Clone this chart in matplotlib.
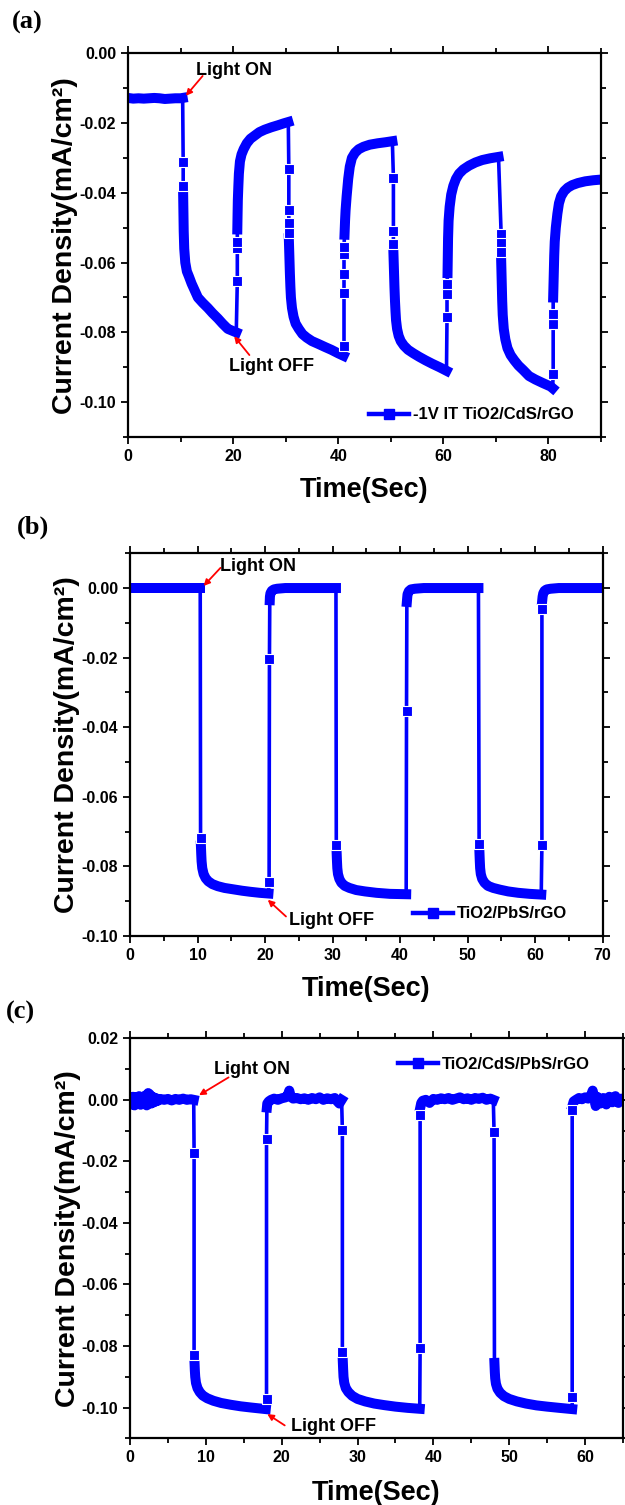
"""Transient photocurrent response of three TiO2 based photoelectrodes."""
import matplotlib
matplotlib.use("Agg")
from matplotlib import pyplot as plt
from matplotlib.lines import Line2D
from matplotlib.ticker import MultipleLocator

plt.rcParams['font.family'] = ['Liberation Sans', 'DejaVu Sans']
plt.rcParams['font.weight'] = 'bold'

BLUE = '#0000ff'

# ---------------- (a) -1V IT TiO2/CdS/rGO ----------------
# smooth (densely sampled) parts of the trace
a_band_time = [
    [0, 1, 2, 3, 4, 5, 6, 7, 8, 9, 10, 10.4],
    [10.5, 10.55, 10.6, 10.7, 10.9, 11.2, 11.6, 12.1, 12.7, 13.3, 14.2, 15.2, 16.1, 17.1, 18.0, 19.0, 19.8, 20.6],
    [20.8, 20.85, 20.9, 21.0, 21.1, 21.3, 21.6, 22.0, 22.6, 23.3, 24.1, 25.0, 26.0, 27.3, 28.6, 29.6, 30.5],
    [30.6, 30.7, 30.8, 30.9, 31.0, 31.2, 31.5, 31.9, 32.5, 33.2, 34.0, 35.0, 36.2, 37.5, 38.7, 40.0, 41.0],
    [41.2, 41.3, 41.4, 41.6, 41.9, 42.2, 42.6, 43.2, 43.9, 44.8, 46.0, 47.5, 49.0, 50.3],
    [50.5, 50.6, 50.7, 50.8, 50.9, 51.0, 51.2, 51.5, 51.9, 52.5, 53.3, 54.3, 55.4, 56.6, 57.9, 59.3, 60.6],
    [60.8, 60.85, 60.9, 61.0, 61.2, 61.5, 61.9, 62.4, 63.0, 63.8, 64.9, 66.1, 67.4, 68.9, 70.5],
    [71.0, 71.1, 71.2, 71.3, 71.5, 71.8, 72.2, 72.8, 73.5, 74.3, 75.2, 76.3, 77.5, 78.9, 80.4, 80.8],
    [80.9, 81.0, 81.1, 81.2, 81.4, 81.7, 82.0, 82.4, 83.0, 83.7, 84.5, 85.6, 87.0, 88.5, 90.0],
]
a_band_current = [
    [-0.0128, -0.0130, -0.0129, -0.0130, -0.0129, -0.0128, -0.0129, -0.0131, -0.0130, -0.0129, -0.0129, -0.0128],
    [-0.041, -0.046, -0.051, -0.056, -0.060, -0.0625, -0.064, -0.066, -0.068, -0.070, -0.0715, -0.073, -0.0745,
     -0.076, -0.0775, -0.079, -0.0795, -0.0800],
    [-0.0505, -0.046, -0.042, -0.038, -0.0345, -0.031, -0.0290, -0.0275, -0.0258, -0.0245, -0.0236, -0.0226,
     -0.0219, -0.0212, -0.0206, -0.0201, -0.0197],
    [-0.053, -0.058, -0.063, -0.067, -0.070, -0.073, -0.0755, -0.0775, -0.079, -0.0805, -0.0815, -0.0825,
     -0.0833, -0.0842, -0.0850, -0.0860, -0.0867],
    [-0.052, -0.048, -0.045, -0.041, -0.036, -0.0325, -0.0300, -0.0285, -0.0275, -0.0268, -0.0262, -0.0258,
     -0.0255, -0.0252],
    [-0.057, -0.062, -0.067, -0.071, -0.074, -0.0765, -0.079, -0.081, -0.0825, -0.0838, -0.0850, -0.0860,
     -0.0870, -0.0880, -0.0890, -0.0900, -0.0910],
    [-0.063, -0.058, -0.053, -0.048, -0.044, -0.0405, -0.038, -0.036, -0.0345, -0.0333, -0.0322, -0.0313,
     -0.0306, -0.0301, -0.0297],
    [-0.059, -0.065, -0.071, -0.075, -0.079, -0.082, -0.0845, -0.0865, -0.088, -0.0895, -0.0908, -0.0925,
     -0.0935, -0.0945, -0.0955, -0.0960],
    [-0.070, -0.064, -0.058, -0.054, -0.050, -0.046, -0.043, -0.041, -0.0395, -0.0385, -0.0378, -0.0372,
     -0.0367, -0.0364, -0.0362],
]
# sparse points while the light is switched
a_step_time = [[10.5, 10.5], [20.8, 20.8, 20.8], [30.6, 30.6, 30.6, 30.6], [41.1, 41.1, 41.1, 41.1, 41.1],
               [50.5, 50.5, 50.5], [60.7, 60.7, 60.7], [71.0, 71.0, 71.0], [80.9, 80.9, 80.9]]
a_step_current = [[-0.0313, -0.0381], [-0.0652, -0.0557, -0.0540], [-0.0333, -0.0448, -0.0486, -0.0514],
                  [-0.0838, -0.0686, -0.0633, -0.0576, -0.0555], [-0.0357, -0.0510, -0.0548],
                  [-0.0757, -0.0690, -0.0660], [-0.0519, -0.0543, -0.0571], [-0.0919, -0.0776, -0.0748]]

# ---------------- (b) TiO2/PbS/rGO ----------------
b_band_time = [
    [0, 2, 4, 6, 8, 10, 10.4],
    [10.5, 10.55, 10.6, 10.7, 10.9, 11.2, 11.6, 12.2, 13.0, 14.0, 15.3, 16.6, 17.8, 19.2, 20.5],
    [20.7, 20.72, 20.8, 21.0, 21.3, 21.8, 23.0, 25.0, 27.0, 29.0, 30.5],
    [30.6, 30.65, 30.7, 30.8, 31.0, 31.3, 31.8, 32.5, 33.5, 34.8, 36.5, 38.5, 40.9],
    [41.0, 41.05, 41.1, 41.3, 41.6, 42.2, 43.5, 46, 49, 51.6],
    [51.75, 51.8, 51.85, 51.95, 52.15, 52.5, 53.0, 53.8, 54.8, 56.0, 57.5, 59.2, 60.9],
    [61.05, 61.1, 61.2, 61.4, 61.7, 62.3, 63.5, 66, 68, 70],
]
b_band_current = [
    [0.0, 0.0, 0.0, 0.0, 0.0, 0.0, 0.0],
    [-0.0740, -0.0765, -0.0785, -0.0805, -0.0822, -0.0834, -0.0843, -0.0851, -0.0857, -0.0862, -0.0866,
     -0.0870, -0.0873, -0.0876, -0.0878],
    [-0.0035, -0.0025, -0.0015, -0.0008, -0.0004, -0.0002, 0.0, 0.0, 0.0, 0.0, 0.0],
    [-0.0760, -0.0785, -0.0805, -0.0822, -0.0836, -0.0847, -0.0856, -0.0862, -0.0868, -0.0872, -0.0876,
     -0.0879, -0.0880],
    [-0.0040, -0.0028, -0.0018, -0.0009, -0.0004, -0.0002, 0.0, 0.0, 0.0, 0.0],
    [-0.0760, -0.0785, -0.0805, -0.0822, -0.0836, -0.0847, -0.0856, -0.0862, -0.0867, -0.0872, -0.0876,
     -0.0879, -0.0881],
    [-0.0035, -0.0025, -0.0015, -0.0008, -0.0004, -0.0002, 0.0, 0.0, 0.0, 0.0],
]
b_step_time = [[10.45], [20.6, 20.65], [30.55], [40.95], [51.7], [61.0, 61.0]]
b_step_current = [[-0.0718], [-0.0845, -0.0205], [-0.0740], [-0.0352], [-0.0736], [-0.0738, -0.0060]]

# ---------------- (c) TiO2/CdS/PbS/rGO ----------------
c_band_time = [
    [0, 0.2, 0.4, 0.6, 0.8, 1.0, 1.2, 1.4, 1.6, 1.8, 2.0, 2.2, 2.4, 2.6, 2.8, 3.0, 3.2, 3.4, 3.6, 4.0, 4.5,
     5.0, 5.5, 6.0, 6.5, 7.0, 7.5, 8.0, 8.4],
    [8.5, 8.55, 8.6, 8.7, 8.9, 9.2, 9.6, 10.2, 11.0, 12.0, 13.3, 14.6, 16.0, 17.9],
    [18.05, 18.1, 18.3, 18.6, 19.0, 19.5, 20.0, 20.5, 20.8, 21.0, 21.2, 21.5, 22.0, 22.5, 23.0, 23.5, 24.0,
     24.5, 25.0, 25.5, 26.0, 26.5, 27.0, 27.3, 27.6, 27.9],
    [28.05, 28.1, 28.15, 28.25, 28.45, 28.8, 29.3, 30.0, 31.0, 32.2, 33.5, 35.0, 36.6, 38.2],
    [38.3, 38.4, 38.6, 39.0, 39.5, 40.0, 40.5, 41.0, 41.5, 42.0, 42.5, 43.0, 43.5, 44.0, 44.5, 45.0, 45.5,
     46.0, 46.5, 47.0, 47.5, 47.9],
    [48.05, 48.1, 48.15, 48.25, 48.45, 48.8, 49.3, 50.0, 51.0, 52.2, 53.6, 55.0, 56.6, 58.3],
    [58.35, 58.5, 58.8, 59.2, 59.6, 60.0, 60.4, 60.8, 61.0, 61.2, 61.4, 61.6, 62.0, 62.4, 62.8, 63.2, 63.6,
     64.0, 64.4, 64.8, 65.0],
]
c_band_current = [
    [0.0005, -0.0015, 0.0010, -0.0018, 0.0008, -0.0012, 0.0012, -0.0016, 0.0006, -0.0010, 0.0014, -0.0018,
     0.0022, 0.0018, -0.0012, 0.0010, -0.0008, 0.0006, -0.0004, 0.0003, 0.0, 0.0003, -0.0002, 0.0003, 0.0,
     0.0004, 0.0, 0.0002, 0.0],
    [-0.0850, -0.0880, -0.0900, -0.0920, -0.0937, -0.0950, -0.0961, -0.0970, -0.0978, -0.0985, -0.0991,
     -0.0996, -0.1000, -0.1005],
    [-0.0025, -0.0012, -0.0005, 0.0, 0.0004, 0.0, 0.0005, 0.0008, 0.0015, 0.0030, 0.0010, 0.0004, 0.0006,
     0.0002, 0.0005, 0.0, 0.0006, 0.0002, 0.0008, 0.0, 0.0005, 0.0002, 0.0006, -0.0004, -0.0012, 0.0],
    [-0.0845, -0.0875, -0.0900, -0.0920, -0.0937, -0.0950, -0.0962, -0.0972, -0.0980, -0.0987, -0.0992,
     -0.0997, -0.1001, -0.1004],
    [-0.0022, -0.0010, -0.0003, 0.0, -0.0010, 0.0003, 0.0, 0.0005, 0.0002, 0.0006, 0.0, 0.0004, 0.0008,
     0.0002, 0.0005, 0.0, 0.0006, 0.0003, 0.0007, 0.0, 0.0004, 0.0],
    [-0.0855, -0.0885, -0.0905, -0.0923, -0.0939, -0.0952, -0.0963, -0.0972, -0.0980, -0.0987, -0.0993,
     -0.0997, -0.1001, -0.1005],
    [-0.0018, -0.0005, 0.0, 0.0006, 0.0002, 0.0008, 0.0004, 0.0015, 0.0030, 0.0008, -0.0020, 0.0010,
     -0.0012, 0.0006, -0.0015, 0.0010, -0.0008, 0.0012, -0.0010, 0.0004, 0.0],
]
c_step_time = [[8.45, 8.45], [18.0, 18.0], [28.0, 28.0], [38.25, 38.25], [48.0], [58.3, 58.3]]
c_step_current = [[-0.0172, -0.0830], [-0.0973, -0.0128], [-0.0099, -0.0821], [-0.0807, -0.0050],
                  [-0.0106], [-0.0967, -0.0034]]


def draw_trace(ax, band_t, band_j, step_t, step_j):
    for t, j in zip(band_t, band_j):
        ax.plot(t, j, color=BLUE, lw=7.2, solid_capstyle='projecting',
                solid_joinstyle='round', zorder=2)
    for k, (t, j) in enumerate(zip(step_t, step_j)):
        xs = [band_t[k][-1]] + t + [band_t[k + 1][0]]
        ys = [band_j[k][-1]] + j + [band_j[k + 1][0]]
        ax.plot(xs, ys, color=BLUE, lw=2.6, zorder=1)
        ax.plot(t, j, ls='none', marker='s', ms=7.2, color=BLUE,
                mec='white', mew=0.8, zorder=3)


def style_axes(ax, xmax, xmajor, ylim, label_x):
    ax.set_xlim(0, xmax)
    ax.set_ylim(*ylim)
    ax.xaxis.set_major_locator(MultipleLocator(xmajor))
    ax.xaxis.set_minor_locator(MultipleLocator(xmajor / 2))
    ax.yaxis.set_major_locator(MultipleLocator(0.02))
    ax.yaxis.set_minor_locator(MultipleLocator(0.01))
    ax.yaxis.set_major_formatter(lambda v, pos: "{:.2f}".format(v).replace("-0.00", "0.00"))
    ax.tick_params(which='both', direction='out', top=True, right=True,
                   labelsize=11.5, width=1.3)
    ax.tick_params(which='major', length=5)
    ax.tick_params(which='minor', length=3.3)
    for sp in ax.spines.values():
        sp.set_linewidth(1.6)
    ax.set_xlabel("Time(Sec)", fontsize=19.5, fontweight='bold')
    ax.set_ylabel("Current Density(mA/cm²)", fontsize=20.5, fontweight='bold')
    ax.xaxis.set_label_coords(0.5, -0.105)
    ax.yaxis.set_label_coords(label_x, 0.5)


def light_note(ax, text, tip, tail, where):
    ax.annotate("", xy=tip, xytext=tail,
                arrowprops=dict(arrowstyle='-|>', color='red', lw=1.3,
                                mutation_scale=9, shrinkA=0, shrinkB=0))
    ax.text(where[0], where[1], text, fontsize=13, fontweight='bold',
            ha='left', va='center')


def add_legend(fig, ax, label, x, y):
    handle = Line2D([], [], color=BLUE, lw=3.2, marker='s', ms=7)
    ax.legend([handle], [label], loc='center left', bbox_to_anchor=(x, y),
              bbox_transform=fig.transFigure, frameon=False, fontsize=12,
              handlelength=2.4, handletextpad=0.25, borderpad=0, borderaxespad=0)


def main():
    fig = plt.figure(figsize=(6.25, 15.05), dpi=100)
    ax_a = fig.add_axes([0.2048, 0.7096, 0.7568, 0.2550])
    ax_b = fig.add_axes([0.208, 0.3781, 0.7563, 0.2543])
    ax_c = fig.add_axes([0.208, 0.0443, 0.7888, 0.2658])

    draw_trace(ax_a, a_band_time, a_band_current, a_step_time, a_step_current)
    style_axes(ax_a, 90, 20, (-0.11, 0.0), -0.105)
    light_note(ax_a, "Light ON", (11.0, -0.0122), (14.2, -0.0065), (12.9, -0.0048))
    light_note(ax_a, "Light OFF", (20.2, -0.0811), (23.1, -0.0865), (19.2, -0.0897))
    add_legend(fig, ax_a, "-1V IT TiO2/CdS/rGO", 0.5904, 0.7243)

    draw_trace(ax_b, b_band_time, b_band_current, b_step_time, b_step_current)
    style_axes(ax_b, 70, 10, (-0.10, 0.01), -0.105)
    light_note(ax_b, "Light ON", (10.9, 0.0006), (13.4, 0.0058), (13.4, 0.0061))
    light_note(ax_b, "Light OFF", (20.4, -0.0896), (23.1, -0.0944), (23.5, -0.0957))
    add_legend(fig, ax_b, "TiO2/PbS/rGO", 0.6608, 0.3927)

    draw_trace(ax_c, c_band_time, c_band_current, c_step_time, c_step_current)
    style_axes(ax_c, 65, 10, (-0.11, 0.02), -0.10)
    light_note(ax_c, "Light ON", (9.1, 0.0015), (13.0, 0.0073), (11.1, 0.0097))
    light_note(ax_c, "Light OFF", (18.1, -0.1021), (20.4, -0.1058), (21.2, -0.1060))
    add_legend(fig, ax_c, "TiO2/CdS/PbS/rGO", 0.6368, 0.2930)

    for label, x, y in [("(a)", 0.019, 0.9854), ("(b)", 0.027, 0.6498), ("(c)", 0.0096, 0.3276)]:
        fig.text(x, y, label, fontsize=19, fontweight='bold', va='center', ha='left',
                 family=['Liberation Serif', 'DejaVu Serif'])

    fig.savefig("out.png", dpi=100)


if __name__ == '__main__':
    main()
